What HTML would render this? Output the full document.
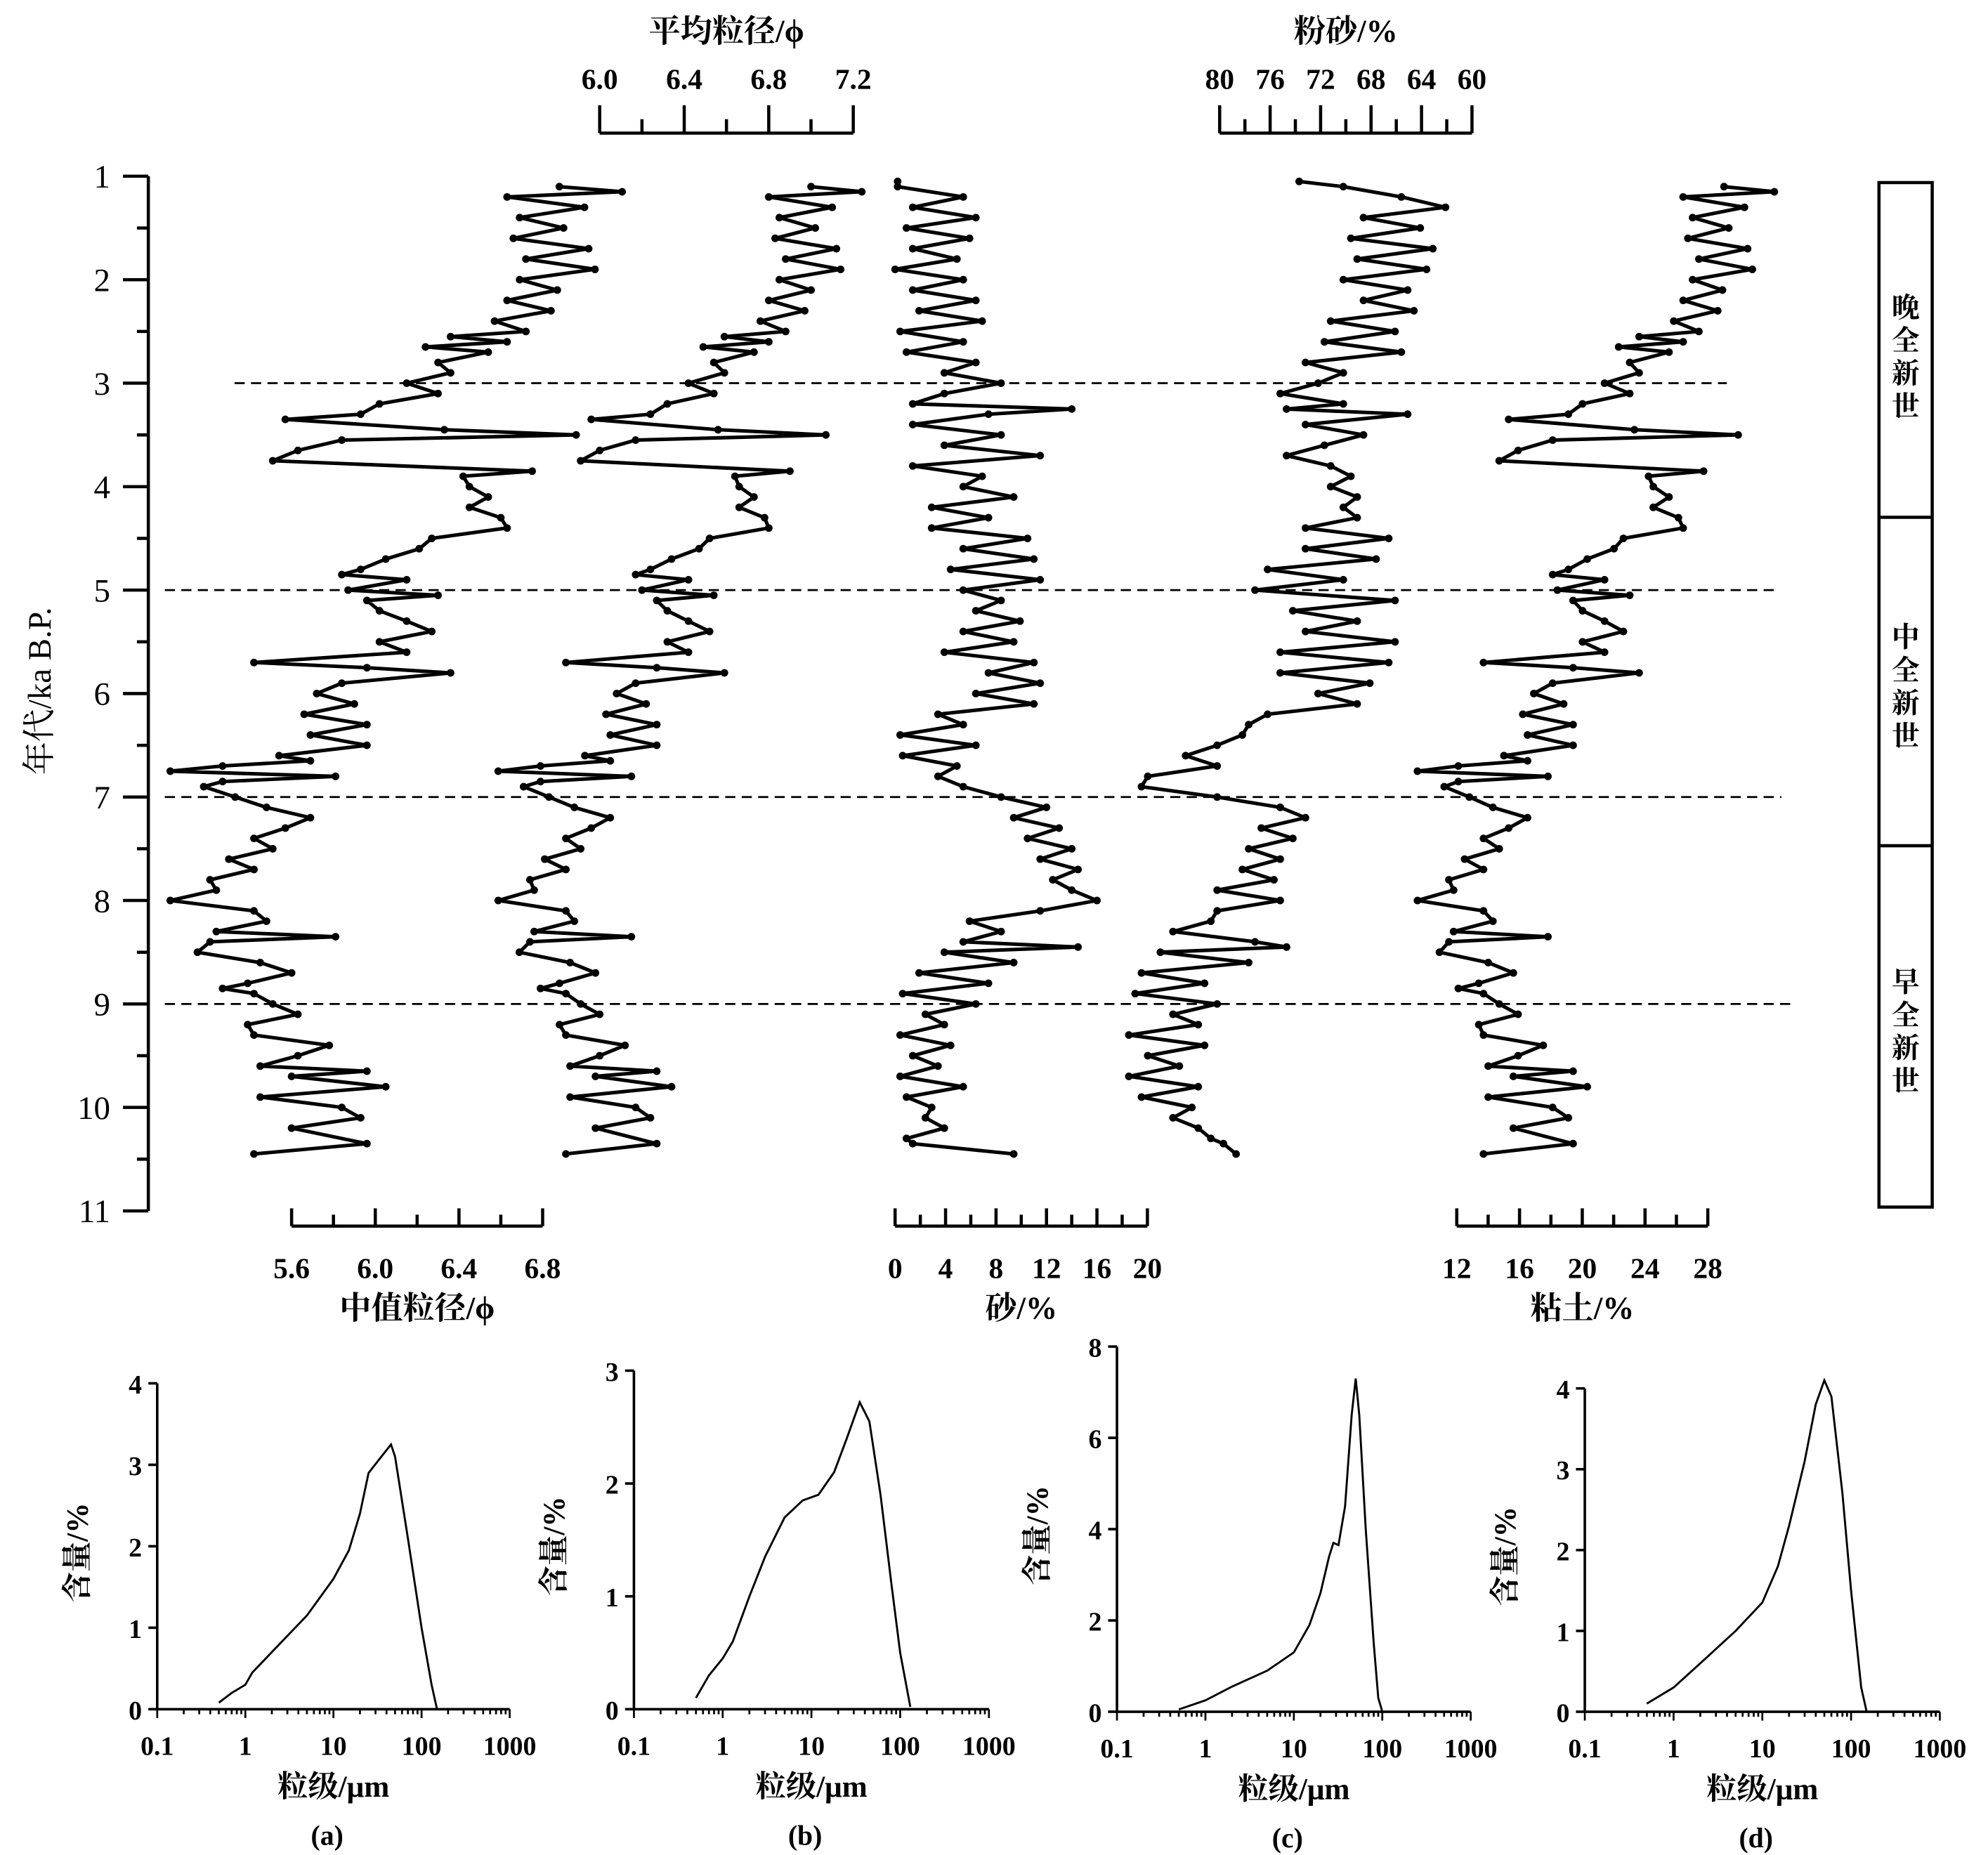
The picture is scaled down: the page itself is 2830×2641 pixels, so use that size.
<!DOCTYPE html>
<html><head><meta charset="utf-8"><style>
html,body{margin:0;padding:0;background:#fff;}
svg{display:block;}
text{font-family:"Liberation Serif","Noto Serif CJK SC",serif;fill:#000;}
</style></head><body>
<svg id="chart" xmlns="http://www.w3.org/2000/svg" width="2830" height="2641" viewBox="0 0 1568 1463" preserveAspectRatio="none"></svg>
<script>
// ---------- data ----------
const agesA = [1.1,1.15,1.2,1.3,1.4,1.5,1.6,1.7,1.8,1.9,2.0,2.1,2.2,2.3,2.4,2.5,2.55,2.6,2.65,2.7,2.8,2.9,3.0,3.1,3.2,3.3,3.35,3.45,3.5,3.55,3.65,3.75,3.85,3.9,4.0,4.1,4.2,4.3,4.4,4.5,4.6,4.7,4.8,4.85,4.9,5.0,5.05,5.1,5.2,5.3,5.4,5.5,5.6,5.7,5.75,5.8,5.9,6.0,6.1,6.2,6.3,6.4,6.5,6.6,6.65,6.7,6.75,6.8,6.85,6.9,7.0,7.1,7.2,7.3,7.4,7.5,7.6,7.7,7.8,7.9,8.0,8.1,8.2,8.3,8.35,8.4,8.5,8.6,8.7,8.8,8.85,8.9,9.0,9.1,9.2,9.3,9.4,9.5,9.6,9.65,9.7,9.8,9.9,10.0,10.1,10.2,10.35,10.45];
const medianPhi = [6.88,7.18,6.63,7.00,6.69,6.90,6.66,7.02,6.72,7.05,6.69,6.87,6.63,6.84,6.57,6.72,6.36,6.63,6.24,6.54,6.30,6.36,6.15,6.30,6.02,5.93,5.57,6.33,6.96,5.84,5.63,5.51,6.75,6.42,6.45,6.54,6.45,6.60,6.63,6.27,6.21,6.05,5.93,5.84,6.15,5.87,6.30,5.96,6.02,6.15,6.27,6.02,6.15,5.42,5.96,6.36,5.84,5.72,5.90,5.66,5.96,5.69,5.96,5.54,5.69,5.27,5.02,5.81,5.27,5.18,5.33,5.48,5.69,5.57,5.42,5.51,5.30,5.42,5.21,5.24,5.02,5.42,5.48,5.24,5.81,5.21,5.15,5.45,5.60,5.39,5.27,5.42,5.51,5.63,5.39,5.42,5.78,5.63,5.45,5.96,5.60,6.05,5.45,5.84,5.93,5.60,5.96,5.42];
const meanPhi = [7.00,7.24,6.80,7.10,6.85,7.02,6.83,7.12,6.88,7.14,6.85,7.00,6.80,6.97,6.76,6.88,6.59,6.80,6.49,6.73,6.54,6.59,6.42,6.54,6.32,6.24,5.96,6.56,7.07,6.17,6.00,5.91,6.90,6.64,6.66,6.73,6.66,6.78,6.80,6.52,6.47,6.34,6.24,6.17,6.42,6.20,6.54,6.27,6.32,6.42,6.52,6.32,6.42,5.84,6.27,6.59,6.17,6.08,6.22,6.03,6.27,6.05,6.27,5.93,6.05,5.72,5.52,6.15,5.72,5.64,5.76,5.88,6.05,5.96,5.84,5.91,5.74,5.84,5.67,5.69,5.52,5.84,5.88,5.69,6.15,5.67,5.62,5.86,5.98,5.81,5.72,5.84,5.91,6.00,5.81,5.84,6.12,6.00,5.86,6.27,5.98,6.34,5.86,6.17,6.24,5.98,6.27,5.84];
const clayPct = [29.0,32.2,26.4,30.3,27.0,29.3,26.7,30.5,27.4,30.8,27.0,28.9,26.4,28.6,25.8,27.4,23.6,26.4,22.3,25.5,23.0,23.6,21.4,23.0,20.0,19.1,15.3,23.3,29.9,18.1,15.9,14.7,27.7,24.2,24.5,25.5,24.5,26.1,26.4,22.6,22.0,20.3,19.1,18.1,21.4,18.4,23.0,19.4,20.0,21.4,22.6,20.0,21.4,13.7,19.4,23.6,18.1,16.9,18.8,16.2,19.4,16.5,19.4,15.0,16.5,12.1,9.5,17.8,12.1,11.2,12.8,14.3,16.5,15.3,13.7,14.7,12.5,13.7,11.5,11.8,9.5,13.7,14.3,11.8,17.8,11.5,10.9,14.0,15.6,13.4,12.1,13.7,14.7,15.9,13.4,13.7,17.5,15.9,14.0,19.4,15.6,20.3,14.0,18.1,19.1,15.6,19.4,13.7];
const agesB = [1.05,1.1,1.2,1.3,1.4,1.5,1.6,1.7,1.8,1.9,2.0,2.1,2.2,2.3,2.4,2.5,2.6,2.7,2.8,2.9,3.0,3.1,3.2,3.25,3.3,3.4,3.5,3.6,3.7,3.8,3.9,4.0,4.1,4.2,4.3,4.4,4.5,4.6,4.7,4.8,4.9,5.0,5.1,5.2,5.3,5.4,5.5,5.6,5.7,5.8,5.9,6.0,6.1,6.2,6.3,6.4,6.5,6.6,6.7,6.8,6.9,7.0,7.1,7.2,7.3,7.4,7.5,7.6,7.7,7.8,7.9,8.0,8.1,8.2,8.3,8.4,8.45,8.5,8.6,8.7,8.8,8.9,9.0,9.1,9.2,9.3,9.4,9.5,9.6,9.7,9.8,9.9,10.0,10.1,10.2,10.3,10.35,10.45];
const sandPct = [0.2,0.2,5.4,1.4,6.4,0.9,5.9,1.4,4.9,0,5.4,1.4,6.4,1.9,6.9,0.4,5.4,0.9,6.4,3.9,8.4,3.9,1.4,14.0,7.4,1.4,8.4,3.9,11.5,1.4,6.9,5.4,9.4,2.9,7.4,2.9,10.5,5.4,11.0,4.4,11.5,5.4,8.4,6.4,9.9,5.4,9.4,3.9,11.0,7.4,11.5,6.4,11.0,3.4,5.4,0.4,6.4,0.6,4.9,3.4,5.4,8.4,12.0,9.4,13.0,10.5,14.0,11.5,14.5,12.5,14.0,16.0,11.5,5.9,8.4,5.4,14.5,3.9,9.4,1.9,7.4,0.6,6.4,2.4,3.9,0.4,4.4,1.4,3.4,0.4,5.4,0.9,2.9,2.4,3.9,0.9,1.4,9.4];
const siltPct = [73.7,70.2,65.6,62.1,68.6,64.1,69.6,63.1,69.1,63.6,70.2,65.1,68.6,64.6,71.2,66.1,71.7,65.6,73.2,70.2,72.2,75.2,70.2,74.7,65.1,73.2,68.6,71.7,74.7,71.2,69.6,71.2,69.1,70.2,69.1,73.2,66.6,73.2,67.6,76.2,70.2,77.2,66.1,74.2,69.1,73.2,66.1,75.2,66.6,75.2,68.1,72.2,69.1,76.2,77.7,78.2,80.2,82.7,80.2,85.7,86.2,80.2,75.2,73.2,76.7,74.2,77.7,75.2,78.2,75.7,80.2,75.2,80.2,80.7,83.7,77.2,74.7,84.7,77.7,86.2,81.2,86.7,80.2,83.7,81.7,87.2,81.2,85.7,83.2,87.2,81.7,86.2,82.2,83.7,81.7,80.7,79.7,78.7];
const yTicks = [1,2,3,4,5,6,7,8,9,10,11];
const boundaryAges = [3,5,7,9];
const medianTicks = ["5.6","6.0","6.4","6.8"];
const meanTicks = ["6.0","6.4","6.8","7.2"];
const sandTicks = ["0","4","8","12","16","20"];
const siltTicks = ["80","76","72","68","64","60"];
const clayTicks = ["12","16","20","24","28"];
const sizeA = [0.5,0.7,1,1.2,2,5,10,15,20,25,35,45,50,70,100,130,150];
const pctA = [0.08,0.2,0.3,0.45,0.7,1.15,1.6,1.95,2.4,2.9,3.1,3.25,3.1,2.1,1.0,0.3,0];
const sizeB = [0.5,0.7,1,1.3,2,3,5,8,12,18,25,35,45,60,80,100,130];
const pctB = [0.1,0.3,0.45,0.6,1.0,1.35,1.7,1.85,1.9,2.1,2.4,2.72,2.55,1.9,1.1,0.5,0.02];
const sizeC = [0.5,1,2,5,10,15,20,25,28,32,38,45,50,55,65,80,90,100];
const pctC = [0.05,0.25,0.55,0.9,1.3,1.9,2.6,3.4,3.7,3.65,4.5,6.5,7.3,6.5,4.0,1.5,0.3,0];
const sizeD = [0.5,1,2,5,10,15,20,30,40,50,60,80,100,130,150];
const pctD = [0.1,0.3,0.6,1.0,1.35,1.8,2.3,3.1,3.8,4.1,3.9,2.7,1.5,0.3,0];

// ---------- helpers ----------
const svg = document.getElementById('chart');
const NS = 'http://www.w3.org/2000/svg';
function mk(tag, attrs, name, parent) {
  const el = document.createElementNS(NS, tag);
  for (const k in attrs) el.setAttribute(k, attrs[k]);
  
  
  (parent || svg).appendChild(el);
  return el;
}
function ln(x1,y1,x2,y2,w,name,dash){
  const a={x1:x1,y1:y1,x2:x2,y2:y2,stroke:'#000','stroke-width':w};
  if(dash) a['stroke-dasharray']=dash;
  return mk('line',a,name);
}
function tx(x,y,s,size,name,anchor,rot,weight){
  const a={x:x,y:y,'font-size':size,'text-anchor':anchor||'middle'};
  if(weight) a['font-weight']=weight;
  if(rot) a.transform='rotate('+rot+' '+x+' '+y+')';
  const t=mk('text',a,name); t.textContent=s; return t;
}
const yA = a => 139 + (a-1)*81.6;

// ---------- main age axis ----------
ln(117,139,117,955,2.5,'age-axis-line');
yTicks.forEach((t,i)=>{
  ln(97,yA(t),117,yA(t),2.5,'age-major-tick');
  tx(87,yA(t)+9,String(t),26,'age-tick-label','end');
  if(i<yTicks.length-1) ln(108,yA(t+0.5),117,yA(t+0.5),2.5,'age-minor-tick');
});
tx(40,545,'年代/ka B.P.',26,'age-axis-title','middle',-90);

const dashStart=[185,130,130,130], dashEnd=[1362,1400,1405,1415];
boundaryAges.forEach((a,i)=>ln(dashStart[i],yA(a),dashEnd[i],yA(a),1.5,'boundary-dashed-line','8,5'));

// ---------- series ----------
function series(ages, vals, xf, name){
  const g=mk('g',{},name);
  const n=Math.min(ages.length,vals.length);
  let d='';
  for(let i=0;i<n;i++) d+=(i?'L':'M')+xf(vals[i]).toFixed(1)+','+yA(ages[i]).toFixed(1);
  mk('path',{d:d,fill:'none',stroke:'#000','stroke-width':2.8,'stroke-linejoin':'round'},name+'-line',g);
  for(let i=0;i<n;i++) mk('circle',{cx:xf(vals[i]),cy:yA(ages[i]),r:3,fill:'#000'},name+'-point',g);
}
const xMed = v => 230 + (v-5.6)*165;
const xMean = v => 473 + (v-6.0)*166.7;
const xSand = v => 706 + v*9.95;
const xSilt = v => 962 + (80-v)*9.95;
const xClay = v => 1149 + (v-12)*12.4;
series(agesA, medianPhi, xMed, 'median-series');
series(agesA, meanPhi, xMean, 'mean-series');
series(agesB, sandPct, xSand, 'sand-series');
series(agesB, siltPct, xSilt, 'silt-series');
series(agesA, clayPct, xClay, 'clay-series');

// ---------- bottom axes ----------
function bottomAxis(x0,x1,labels,nMinor,title,tname){
  const y=967;
  ln(x0,y,x1,y,2.5,tname+'-axis-line');
  const step=(x1-x0)/((labels.length-1)*nMinor);
  for(let i=0;i<=(labels.length-1)*nMinor;i++){
    const x=x0+i*step, major=i%nMinor===0;
    ln(x,y,x,y-(major?14:9),2.5,tname+(major?'-major-tick':'-minor-tick'));
  }
  labels.forEach((s,i)=>tx(x0+i*step*nMinor,1008,s,23,tname+'-tick-label','middle',0,'bold'));
  tx((x0+x1)/2,1040,title,25,tname+'-axis-title','middle',0,'bold');
}
bottomAxis(230,428,medianTicks,2,'中值粒径/ϕ','median');
bottomAxis(706,905,sandTicks,2,'砂/%','sand');
bottomAxis(1149,1347,clayTicks,2,'粘土/%','clay');
function topAxis(x0,x1,labels,nMinor,title,tname){
  const y=105;
  ln(x0,y,x1,y,2.5,tname+'-axis-line');
  const step=(x1-x0)/((labels.length-1)*nMinor);
  for(let i=0;i<=(labels.length-1)*nMinor;i++){
    const x=x0+i*step, major=i%nMinor===0;
    ln(x,y,x,y-(major?22:11),2.5,tname+(major?'-major-tick':'-minor-tick'));
  }
  labels.forEach((s,i)=>tx(x0+i*step*nMinor,70,s,23,tname+'-tick-label','middle',0,'bold'));
  tx((x0+x1)/2,33,title,25,tname+'-axis-title','middle',0,'bold');
}
topAxis(473,673,meanTicks,2,'平均粒径/ϕ','mean');
topAxis(962,1161,siltTicks,2,'粉砂/%','silt');

// ---------- stage box ----------
mk('rect',{x:1482,y:144,width:42,height:808,fill:'none',stroke:'#000','stroke-width':2.5},'holocene-stage-box');
ln(1482,408,1524,408,2.5,'stage-divider');
ln(1482,667,1524,667,2.5,'stage-divider');
[['晚全新世',280],['中全新世',540],['早全新世',812]].forEach(([s,c])=>{
  [...s].forEach((ch,i)=>tx(1503,c-39+i*26+9,ch,22,'stage-label-char','middle',0,'bold'));
});

// ---------- distribution panels ----------
const logTicks=["0.1","1","10","100","1000"];
function panel(x0,x1,y0,yTop,ymax,yticks,sizes,pcts,label,pname){
  const xl = s => x0 + (Math.log10(s)+1)*(x1-x0)/4;
  const yv = v => y0 - v*(y0-yTop)/ymax;
  ln(x0,yTop,x0,y0,2,pname+'-y-axis');
  ln(x0,y0,x1,y0,2,pname+'-x-axis');
  yticks.forEach(v=>{ ln(x0-7,yv(v),x0,yv(v),2,pname+'-y-tick'); tx(x0-12,yv(v)+8,String(v),21,pname+'-y-tick-label','end',0,'bold'); });
  for(let dcd=0;dcd<4;dcd++) for(let m=1;m<10;m++){
    const s=Math.pow(10,dcd-1)*m; const x=xl(s);
    ln(x,y0,x,y0+(m===1?7:4),1.5,pname+'-x-tick');
  }
  ln(x1,y0,x1,y0+7,1.5,pname+'-x-tick');
  logTicks.forEach((s,i)=>tx(x0+i*(x1-x0)/4,y0+36,s,21,pname+'-x-tick-label','middle',0,'bold'));
  tx((x0+x1)/2,y0+69,'粒级/μm',24,pname+'-x-axis-title','middle',0,'bold');
  tx((x0+x1)/2-5,y0+107,label,22,pname+'-panel-label','middle',0,'bold');
  tx(x0-55,(y0+yTop)/2+5,'含量/%',24,pname+'-y-axis-title','middle',-90,'bold');
  let d=''; sizes.forEach((s,i)=>{ d+=(i?'L':'M')+xl(s).toFixed(1)+','+yv(pcts[i]).toFixed(1); });
  mk('path',{d:d,fill:'none',stroke:'#000','stroke-width':1.6},pname+'-curve');
}
panel(124,402,1348,1091,4,[0,1,2,3,4],sizeA,pctA,'(a)','panel-a');
panel(500,780,1348,1081,3,[0,1,2,3],sizeB,pctB,'(b)','panel-b');
panel(881,1160,1350,1062,8,[0,2,4,6,8],sizeC,pctC,'(c)','panel-c');
panel(1250,1530,1350,1095,4,[0,1,2,3,4],sizeD,pctD,'(d)','panel-d');
</script>
</body></html>
